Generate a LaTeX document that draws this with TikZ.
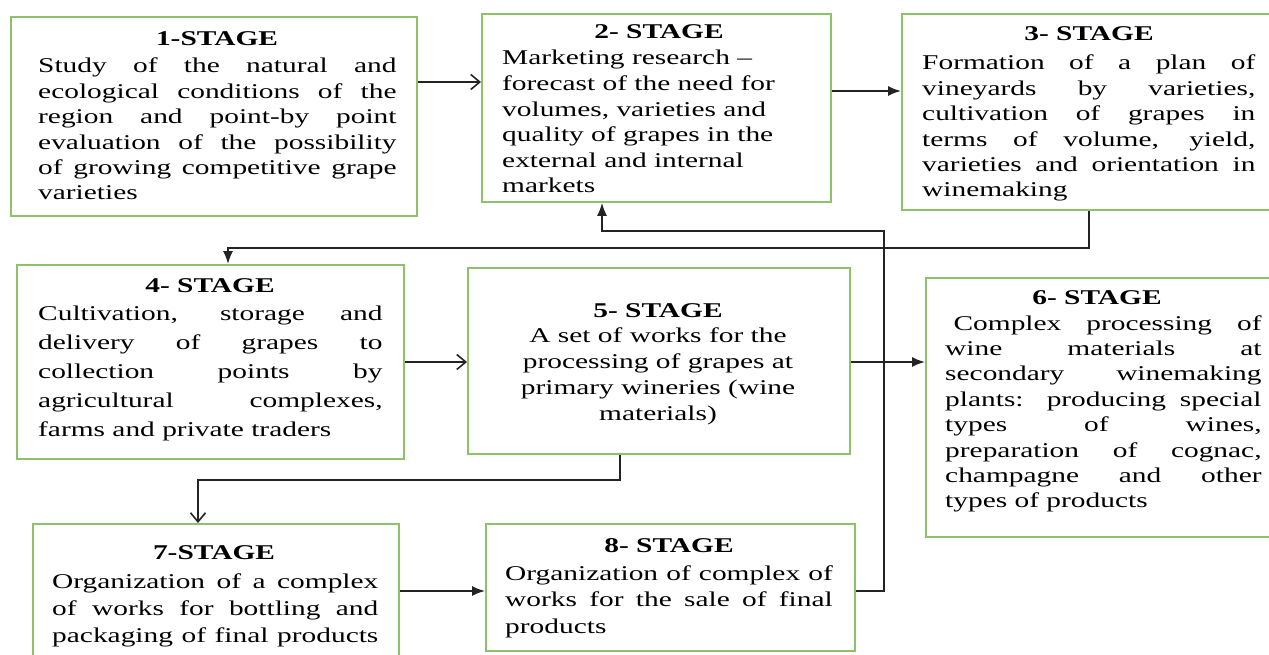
\documentclass[tikz,border=0pt]{standalone}
\usepackage{fontspec}
\usepackage{graphicx}
\setmainfont{Liberation Serif}
\usetikzlibrary{arrows.meta}
\definecolor{boxgreen}{RGB}{141,194,104}
\definecolor{linegray}{RGB}{35,35,35}
\newcommand\sx{1.4}
\newcommand\JL[1]{\hbox to \hsize{#1}}
\newcommand\RL[1]{\hbox{#1}}
\newcommand\CL[1]{\hbox to \hsize{\hfil #1\hfil}}
\newcommand\tbody[3]{\scalebox{\sx}[1]{\vtop{\hsize=#1\baselineskip=#2\lineskiplimit=-30pt\relax #3}}}
\newcommand\thead[1]{\scalebox{\sx}[1]{\bfseries #1}}
\tikzset{
  stagebox/.style={draw=boxgreen, line width=1.8pt, rectangle, inner sep=0pt, anchor=north west},
  txt/.style={inner sep=0pt, font=\fontsize{21}{25}\selectfont, text=black},
  hd/.style={txt, anchor=base},
  bd/.style={txt, anchor=base west},
  conn/.style={draw=linegray, line width=1.6pt},
  oarr/.style={conn, -{Straight Barb[length=9pt,width=15pt,line width=1.6pt]}},
  farr/.style={conn, -{Latex[length=13pt,width=10pt]}},
}
\begin{document}
\begin{tikzpicture}[x=1pt,y=-1pt]
\fill[white] (0,0) rectangle (1269,655);
\useasboundingbox (0,0) rectangle (1269,655);

% boxes
\node[stagebox, minimum width=406pt, minimum height=199pt] (b1) at (10,16) {};
\node[stagebox, minimum width=349pt, minimum height=188pt] (b2) at (481,13) {};
\node[stagebox, minimum width=372pt, minimum height=196pt] (b3) at (901,13) {};
\node[stagebox, minimum width=387pt, minimum height=194pt] (b4) at (16,264) {};
\node[stagebox, minimum width=382pt, minimum height=186pt] (b5) at (467,267) {};
\node[stagebox, minimum width=348pt, minimum height=259pt] (b6) at (925,277) {};
\node[stagebox, minimum width=366pt, minimum height=140pt] (b7) at (32,523) {};
\node[stagebox, minimum width=369pt, minimum height=127pt] (b8) at (485,523) {};

% headers
\node[hd] (h1) at (217,46) {\thead{1-STAGE}};
\node[hd] (h2) at (659,39) {\thead{2- STAGE}};
\node[hd] (h3) at (1089,41) {\thead{3- STAGE}};
\node[hd] (h4) at (210,292) {\thead{4- STAGE}};
\node[hd] (h5) at (658,317) {\thead{5- STAGE}};
\node[hd] (h6) at (1097,304) {\thead{6- STAGE}};
\node[hd] (h7) at (214,559) {\thead{7-STAGE}};
\node[hd] (h8) at (669,552) {\thead{8- STAGE}};

% bodies
\node[bd] (t1) at (38,73) {\tbody{256pt}{25.4pt}{%
\JL{Study of the natural and}
\JL{ecological conditions of the}
\JL{region and point-by point}
\JL{evaluation of the possibility}
\JL{of growing competitive grape}
\RL{varieties}}};

\node[bd] (t2) at (502,65) {\tbody{240pt}{25.6pt}{%
\RL{Marketing research –}
\RL{forecast of the need for}
\RL{volumes, varieties and}
\RL{quality of grapes in the}
\RL{external and internal}
\RL{markets}}};

\node[bd] (t3) at (922,70) {\tbody{238pt}{25.4pt}{%
\JL{Formation of a plan of}
\JL{vineyards by varieties,}
\JL{cultivation of grapes in}
\JL{terms of volume, yield,}
\JL{varieties and orientation in}
\RL{winemaking}}};

\node[bd] (t4) at (38,320) {\tbody{246pt}{29.2pt}{%
\JL{Cultivation, storage and}
\JL{delivery of grapes to}
\JL{collection points by}
\JL{agricultural complexes,}
\RL{farms and private traders}}};

\node[txt, anchor=base] (t5) at (658,342) {\tbody{260pt}{26pt}{%
\CL{A set of works for the}
\CL{processing of grapes at}
\CL{primary wineries (wine}
\CL{materials)}}};

\node[bd] (t6) at (945,330) {\tbody{226pt}{25.4pt}{%
\JL{\hskip6pt Complex processing of}
\JL{wine materials at}
\JL{secondary winemaking}
\JL{plants: producing special}
\JL{types of wines,}
\JL{preparation of cognac,}
\JL{champagne and other}
\RL{types of products}}};

\node[bd] (t7) at (52,588) {\tbody{233pt}{27pt}{%
\JL{Organization of a complex}
\JL{of works for bottling and}
\JL{packaging of final products}}};

\node[bd] (t8) at (505,580) {\tbody{234pt}{26.5pt}{%
\JL{Organization of complex of}
\JL{works for the sale of final}
\RL{products}}};

% connectors
\coordinate (p12) at ([yshift=-66pt]b1.north east);
\draw[oarr] (p12) -- (p12 -| b2.west);

\coordinate (p23) at ([yshift=-78pt]b2.north east);
\draw[farr] (p23) -- (p23 -| b3.west);

\coordinate (p34) at ([xshift=188pt]b3.south west);
\coordinate (q4) at ([xshift=212pt]b4.north west);
\draw[farr] (p34) -- ++(0,37) -| (q4);

\coordinate (p45) at ([yshift=-98pt]b4.north east);
\draw[oarr] (p45) -- (p45 -| b5.west);

\coordinate (p56) at ([yshift=-95pt]b5.north east);
\draw[farr] (p56) -- (p56 -| b6.west);

\coordinate (p57) at ([xshift=153pt]b5.south west);
\coordinate (q7) at ([xshift=166pt]b7.north west);
\draw[oarr] (p57) -- ++(0,25) -| (q7);

\coordinate (p78) at ([yshift=-68pt]b7.north east);
\draw[farr] (p78) -- (p78 -| b8.west);

\coordinate (p82) at ([yshift=-68pt]b8.north east);
\coordinate (q2) at ([xshift=121pt]b2.south west);
\draw[farr] (p82) -- ++(28,0) -- ++(0,-360) -| (q2);
\end{tikzpicture}
\end{document}
